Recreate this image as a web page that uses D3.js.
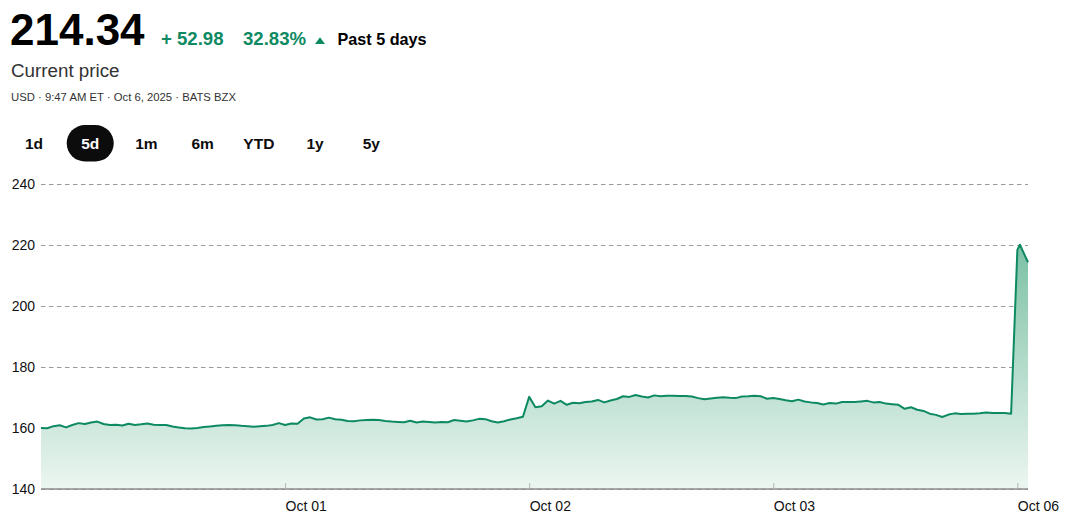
<!DOCTYPE html>
<html>
<head>
<meta charset="utf-8">
<script src="https://cdn.jsdelivr.net/npm/d3@7/dist/d3.min.js"></script>
<style>
  html, body { margin: 0; padding: 0; background: #fff; }
  svg { display: block; font-family: "Liberation Sans", Arial, sans-serif; }
</style>
</head>
<body>
<svg id="chart" width="1066" height="523"></svg>
<script>
// ---- data ----
const dayNames = ["Sep 30", "Oct 01", "Oct 02", "Oct 03", "Oct 06"];
const tickLabels = ["Oct 01", "Oct 02", "Oct 03", "Oct 06"];
const yTicks = [140, 160, 180, 200, 220, 240];
const stepMinutes = 10;       // spacing of the readings within a session
const sessionMinutes = 390;   // 9:30 - 16:00
const sep30 = [160.0, 159.9, 160.6, 160.9, 160.2, 161.0, 161.6, 161.3, 161.8, 162.1, 161.3, 161.0, 161.1, 160.8, 161.4, 161.0, 161.2, 161.5, 161.1, 161.0, 161.0, 160.5, 160.2, 159.9, 159.8, 160.0, 160.3, 160.5, 160.7, 160.9, 161.0, 160.9, 160.7, 160.6, 160.4, 160.6, 160.7, 161.0, 161.6];
const oct01 = [161.0, 161.5, 161.4, 163.1, 163.5, 162.8, 162.9, 163.4, 162.9, 162.7, 162.3, 162.2, 162.5, 162.6, 162.7, 162.6, 162.3, 162.1, 162.0, 161.9, 162.4, 161.8, 162.1, 162.0, 161.8, 162.0, 161.9, 162.6, 162.4, 162.1, 162.5, 163.0, 162.9, 162.2, 161.8, 162.2, 162.8, 163.2, 163.7];
const oct02 = [170.2, 166.8, 167.1, 169.0, 168.0, 168.9, 167.6, 168.3, 168.1, 168.5, 168.7, 169.2, 168.4, 169.0, 169.5, 170.4, 170.2, 170.8, 170.3, 170.0, 170.7, 170.4, 170.6, 170.6, 170.5, 170.5, 170.3, 169.8, 169.4, 169.7, 169.9, 170.1, 169.9, 169.8, 170.3, 170.4, 170.6, 170.4, 169.6];
const oct03 = [169.8, 169.5, 169.1, 168.8, 169.3, 168.7, 168.4, 168.2, 167.7, 168.2, 168.0, 168.5, 168.5, 168.5, 168.7, 168.9, 168.4, 168.5, 168.0, 167.8, 167.6, 166.3, 166.8, 166.0, 165.6, 164.7, 164.3, 163.6, 164.4, 164.8, 164.6, 164.7, 164.7, 164.8, 165.1, 164.9, 164.9, 164.9, 164.7];
const oct06Minutes = [0, 4, 17];
const oct06 = [218.4, 220.1, 214.34];
const ranges = ["1d", "5d", "1m", "6m", "YTD", "1y", "5y"];
const selectedRange = "5d";

// ---- build points ----
const regularDays = [sep30, oct01, oct02, oct03];
const points = [];
regularDays.forEach((vals, d) => {
  vals.forEach((v, i) => points.push({ t: d + (i * stepMinutes) / sessionMinutes, v }));
});
oct06.forEach((v, i) => points.push({ t: 4 + oct06Minutes[i] / sessionMinutes, v }));

const svg = d3.select("#chart");
const green = "#0d8a62";

// ---- header ----
svg.append("text").attr("x", 10).attr("y", 45).attr("font-size", 44).attr("font-weight", 700)
  .attr("fill", "#000").text("214.34");
svg.append("text").attr("x", 161).attr("y", 45).attr("font-size", 18.6).attr("font-weight", 700)
  .attr("fill", green).text("+ 52.98");
svg.append("text").attr("x", 243).attr("y", 45).attr("font-size", 18.6).attr("font-weight", 700)
  .attr("fill", green).text("32.83%");
svg.append("path").attr("d", "M315,44 L320,37.3 L325,44 Z").attr("fill", green);
svg.append("text").attr("x", 337.5).attr("y", 45).attr("font-size", 16.2).attr("font-weight", 700)
  .attr("fill", "#000").text("Past 5 days");
svg.append("text").attr("x", 11).attr("y", 77).attr("font-size", 18.8)
  .attr("fill", "#333").text("Current price");
svg.append("text").attr("x", 11).attr("y", 101).attr("font-size", 11.3)
  .attr("fill", "#333").text("USD · 9:47 AM ET · Oct 6, 2025 · BATS BZX");

// ---- range buttons ----
const btnX = d3.scalePoint().domain(ranges).range([34, 371.3]);
const btns = svg.append("g");
btns.append("rect").attr("x", btnX(selectedRange) - 23.5).attr("y", 125).attr("width", 47).attr("height", 36.5)
  .attr("rx", 18.25).attr("fill", "#0c0c0c");
btns.selectAll("text.rng").data(ranges).join("text").attr("class", "rng")
  .attr("x", d => btnX(d)).attr("y", 149).attr("text-anchor", "middle")
  .attr("font-size", 15.5).attr("font-weight", 700)
  .attr("fill", d => d === selectedRange ? "#fff" : "#0c0c0c").text(d => d);

// ---- chart ----
const x = d3.scaleLinear().domain([0, 4 + 17 / sessionMinutes]).range([41, 1028]);
const y = d3.scaleLinear().domain([140, 240]).range([489, 184]);

const defs = svg.append("defs");
const grad = defs.append("linearGradient").attr("id", "areaGrad")
  .attr("gradientUnits", "userSpaceOnUse").attr("x1", 0).attr("x2", 0)
  .attr("y1", y(240)).attr("y2", y(140));
grad.append("stop").attr("offset", "0%").attr("stop-color", "#5fb392");
grad.append("stop").attr("offset", "100%").attr("stop-color", "#ecf6f1");

// grid + y labels
const yAxis = d3.axisLeft(y).tickValues(yTicks).tickSize(-(x.range()[1] - x.range()[0])).tickPadding(6)
  .tickFormat(d3.format("d"));
const gy = svg.append("g").attr("transform", `translate(${x.range()[0]},0)`).call(yAxis);
gy.select(".domain").remove();
gy.selectAll(".tick line").attr("stroke", "#9a9a9a").attr("stroke-dasharray", "4.5,3.5")
  .attr("stroke-width", 1);
gy.selectAll(".tick text").attr("font-size", 14).attr("fill", "#111")
  .attr("font-family", "Liberation Sans, Arial, sans-serif");

// area + line
const area = d3.area().x(d => x(d.t)).y0(y(140)).y1(d => y(d.v));
svg.append("path").datum(points).attr("d", area).attr("fill", "url(#areaGrad)");
const line = d3.line().x(d => x(d.t)).y(d => y(d.v));
svg.append("path").datum(points).attr("d", line).attr("fill", "none")
  .attr("stroke", green).attr("stroke-width", 2).attr("stroke-linejoin", "round");

// x axis
const xAxis = d3.axisBottom(x).tickValues([1, 2, 3, 4]).tickSize(-6).tickPadding(12)
  .tickFormat((d, i) => tickLabels[i]);
const gx = svg.append("g").attr("transform", `translate(0,${y(140)})`).call(xAxis);
gx.select(".domain").attr("stroke", "#8c8c8c").attr("stroke-width", 1.5)
  .attr("d", `M${x.range()[0]},0H${x.range()[1]}`);
gx.selectAll(".tick line").attr("stroke", "#b5b5b5");
gx.selectAll(".tick text").attr("font-size", 14).attr("fill", "#111").attr("text-anchor", "start")
  .attr("dy", "0.71em").attr("y", 12)
  .attr("font-family", "Liberation Sans, Arial, sans-serif");
</script>
</body>
</html>
